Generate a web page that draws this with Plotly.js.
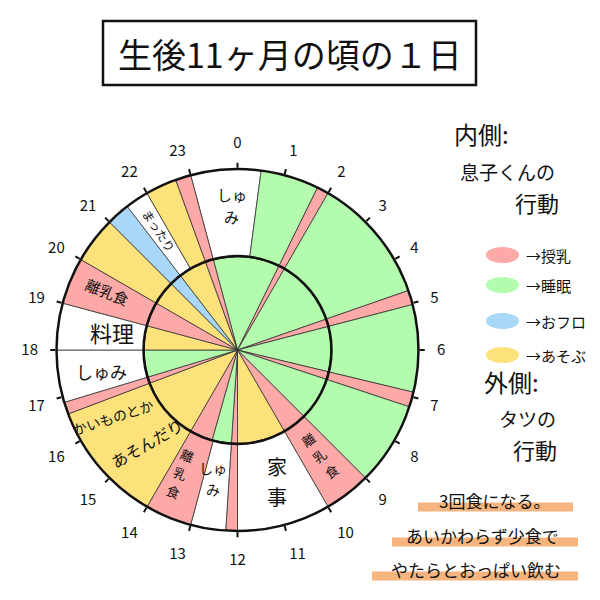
<!DOCTYPE html>
<html>
<head>
<meta charset="utf-8">
<script src="https://cdn.plot.ly/plotly-3.0.1.min.js"></script>
<style>
  html, body { margin: 0; padding: 0; background: #fff; }
  #chart { width: 600px; height: 600px; }
</style>
</head>
<body>
<div id="chart"></div>
<script>
// ── 1日の記録 (時刻は時間, 0–24) ─────────────────────────────
var hourLabels = ['0','1','2','3','4','5','6','7','8','9','10','11',
                  '12','13','14','15','16','17','18','19','20','21','22','23'];

// 内側: 息子くんの行動 (各区間の開始時刻と内容)
var innerStart = [23.0, 1.75, 2.0, 4.72, 5.03, 6.9, 7.22, 9.0, 10.0, 12.0, 12.25,
                  13.05, 14.0, 16.62, 16.88, 18.0, 19.0, 20.0, 21.0, 21.5, 22.67];
var innerKind  = ['睡眠','授乳','睡眠','授乳','睡眠','授乳','睡眠','授乳','あそぶ','授乳','睡眠',
                  '授乳','あそぶ','授乳','睡眠','あそぶ','授乳','あそぶ','おフロ','あそぶ','授乳'];

// 外側: タツの行動
var outerStart = [23.0, 0.5, 1.75, 2.0, 4.72, 5.03, 6.9, 7.22, 9.0, 10.0, 12.0, 12.25,
                  13.0, 14.0, 16.62, 16.88, 18.0, 19.0, 20.0, 21.0, 21.5, 22.0, 22.67];
var outerKind  = ['しゅみ','睡眠','授乳','睡眠','授乳','睡眠','授乳','睡眠','離乳食','家事','授乳','しゅみ',
                  '離乳食','あそぶ','授乳','しゅみ','料理','離乳食','あそぶ','おフロ','まったり','あそぶ','授乳'];

var legendKinds = ['授乳', '睡眠', 'おフロ', 'あそぶ'];
var notes = ['3回食になる。', 'あいかわらず少食で', 'やたらとおっぱい飲む'];

// ── 色 ──────────────────────────────────────────────────────
var COL = {
    '授乳': '#FCA9A7', '離乳食': '#FCA9A7',
    '睡眠': '#B3FCAD', 'おフロ': '#A9D7F7', 'あそぶ': '#FDE17B'
};
var FONT = 'Noto Sans CJK JP';
var INK  = '#111';

// ── 配置 (px) ────────────────────────────────────────────────
var W = 600, CX = 237.5, CY = 350, R_OUT = 181, R_IN = 94, R_LBL = 199;

function dom(R) {
    return { x: [(CX - R) / W, (CX + R) / W], y: [(W - CY - R) / W, (W - CY + R) / W] };
}
function px(x) { return x / W; }
function py(y) { return 1 - y / W; }

function ring(starts, kinds) {
    var out = { theta: [], width: [], color: [], r: [] };
    starts.forEach(function (s, i) {
        var e = starts[(i + 1) % starts.length];
        if (e <= s) e += 24;
        out.theta.push((s + e) / 2 * 15);
        out.width.push((e - s) * 15);
        out.color.push(COL[kinds[i]] || '#FFFFFF');
        out.r.push(1);
    });
    return out;
}

var inner = ring(innerStart, innerKind);
var outer = ring(outerStart, outerKind);

var traces = [
    { type: 'barpolar', subplot: 'polar', r: inner.r, theta: inner.theta, width: inner.width,
      text: innerKind, hoverinfo: 'text', showlegend: false,
      marker: { color: inner.color, line: { color: '#333', width: 0.8 } } },
    { type: 'barpolar', subplot: 'polar2', r: outer.r, theta: outer.theta, width: outer.width,
      text: outerKind, hoverinfo: 'text', showlegend: false,
      marker: { color: outer.color, line: { color: '#333', width: 0.8 } } },
    { type: 'scatterpolar', subplot: 'polar3', r: [0], theta: [0], mode: 'markers',
      marker: { opacity: 0 }, hoverinfo: 'skip', showlegend: false }
];

var hourDeg = hourLabels.map(function (_, i) { return i * 15; });
var baseAng = { rotation: 90, direction: 'clockwise', showgrid: false };

function polarBox(R, ang, extra) {
    var p = { domain: dom(R), bgcolor: 'rgba(0,0,0,0)',
              radialaxis: { visible: false, range: [0, 1] },
              angularaxis: Object.assign({}, baseAng, ang) };
    return Object.assign(p, extra || {});
}

// ── 文字 ─────────────────────────────────────────────────────
function note(t, x, y, size, angle, anchor) {
    return { x: x, y: y, xref: 'paper', yref: 'paper', showarrow: false,
             xanchor: anchor || 'center', yanchor: 'middle', textangle: angle || 0,
             text: t, font: { family: FONT, size: size, color: INK } };
}
function txt(t, x, y, size, anchor) {
    return note(t, px(x), py(y), size, 0, anchor);
}

// 外側リングの書き込み (縦書きは1行ずつ積む)
var ringLabels = [
    { t: ['しゅ', 'み'],       h: 23.85, f: 0.80, a: 0,   s: 15 },
    { t: ['まったり'],         h: 21.80, f: 0.79, a: 56,  s: 12 },
    { t: ['離乳食'],           h: 19.62, f: 0.79, a: 22,  s: 15 },
    { t: ['料理'],             h: 18.55, f: 0.70, a: 0,   s: 22 },
    { t: ['しゅみ'],           h: 17.40, f: 0.76, a: 0,   s: 17 },
    { t: ['かいものとか'],     h: 16.10, f: 0.78, a: -18, s: 14 },
    { t: ['あそんだり'],       h: 14.95, f: 0.72, a: -30, s: 16 },
    { t: ['離', '乳', '食'],   h: 13.65, f: 0.75, a: 22,  s: 13 },
    { t: ['しゅ', 'み'],       h: 12.72, f: 0.72, a: 0,   s: 14 },
    { t: ['家', '事'],         h: 10.90, f: 0.76, a: 0,   s: 20 },
    { t: ['離', '乳', '食'],   h: 9.47,  f: 0.74, a: -35, s: 13 }
];

var ann = [];
ringLabels.forEach(function (L) {
    var a = L.h * 15 * Math.PI / 180;
    var x0 = CX + L.f * R_OUT * Math.sin(a), y0 = CY - L.f * R_OUT * Math.cos(a);
    var t = L.a * Math.PI / 180, step = L.s * 1.5, n = L.t.length;
    L.t.forEach(function (line, k) {
        var d = (k - (n - 1) / 2) * step;
        ann.push(note(line, px(x0 - d * Math.sin(t)), py(y0 + d * Math.cos(t)), L.s, L.a));
    });
});

ann.push(txt('生後11ヶ月の頃の１日', 290, 53, 34));
ann.push(txt('内側:', 481, 133, 24));
ann.push(txt('息子くんの', 507, 172, 19));
ann.push(txt('行動', 537, 202, 22));
ann.push(txt('外側:', 511, 381, 24));
ann.push(txt('タツの', 527, 418, 19));
ann.push(txt('行動', 535, 449, 22));

var legendY = [255, 285, 321, 355];
var shapes = [
    { type: 'rect', xref: 'paper', yref: 'paper', x0: px(103), x1: px(476), y0: py(85), y1: py(21),
      line: { color: INK, width: 2.5 } }
];
legendKinds.forEach(function (k, i) {
    var y = legendY[i];
    shapes.push({ type: 'circle', xref: 'paper', yref: 'paper',
                  x0: px(486), x1: px(519), y0: py(y + 8), y1: py(y - 8),
                  fillcolor: COL[k], line: { width: 0 } });
    ann.push(txt('→' + k, 524, y, 15, 'left'));
});

// メモ (下線マーカー付き)
var noteY = [500, 535, 569];
var noteX = [494, 482, 476];
var markX = [[418, 573], [392, 578], [372, 578]];
notes.forEach(function (n, i) {
    shapes.push({ type: 'line', xref: 'paper', yref: 'paper',
                  x0: px(markX[i][0]), x1: px(markX[i][1]), y0: py(noteY[i] + 7), y1: py(noteY[i] + 7),
                  line: { color: 'rgba(245,168,105,0.85)', width: 9 }, layer: 'below' });
    ann.push(txt(n, noteX[i], noteY[i], 17));
});

var layout = {
    width: 600, height: 600,
    margin: { l: 0, r: 0, t: 0, b: 0 },
    paper_bgcolor: '#fff', plot_bgcolor: '#fff',
    showlegend: false,
    polar: polarBox(R_IN, {
        showline: true, linecolor: INK, linewidth: 2.5,
        ticks: 'outside', ticklen: 4, tickwidth: 2, tickcolor: INK,
        tickvals: hourDeg.filter(function (_, i) { return i % 3 === 0; }),
        showticklabels: false
    }),
    polar2: polarBox(R_OUT, {
        showline: true, linecolor: INK, linewidth: 2.5,
        ticks: 'outside', ticklen: 5, tickwidth: 2, tickcolor: INK,
        tickvals: hourDeg, showticklabels: false
    }, { hole: R_IN / R_OUT }),
    polar3: polarBox(R_LBL, {
        showline: false, ticks: '', tickvals: hourDeg, ticktext: hourLabels,
        tickfont: { family: FONT, size: 15, color: INK }
    }),
    annotations: ann,
    shapes: shapes
};

Plotly.newPlot('chart', traces, layout, { displayModeBar: false, staticPlot: true });
</script>
</body>
</html>
